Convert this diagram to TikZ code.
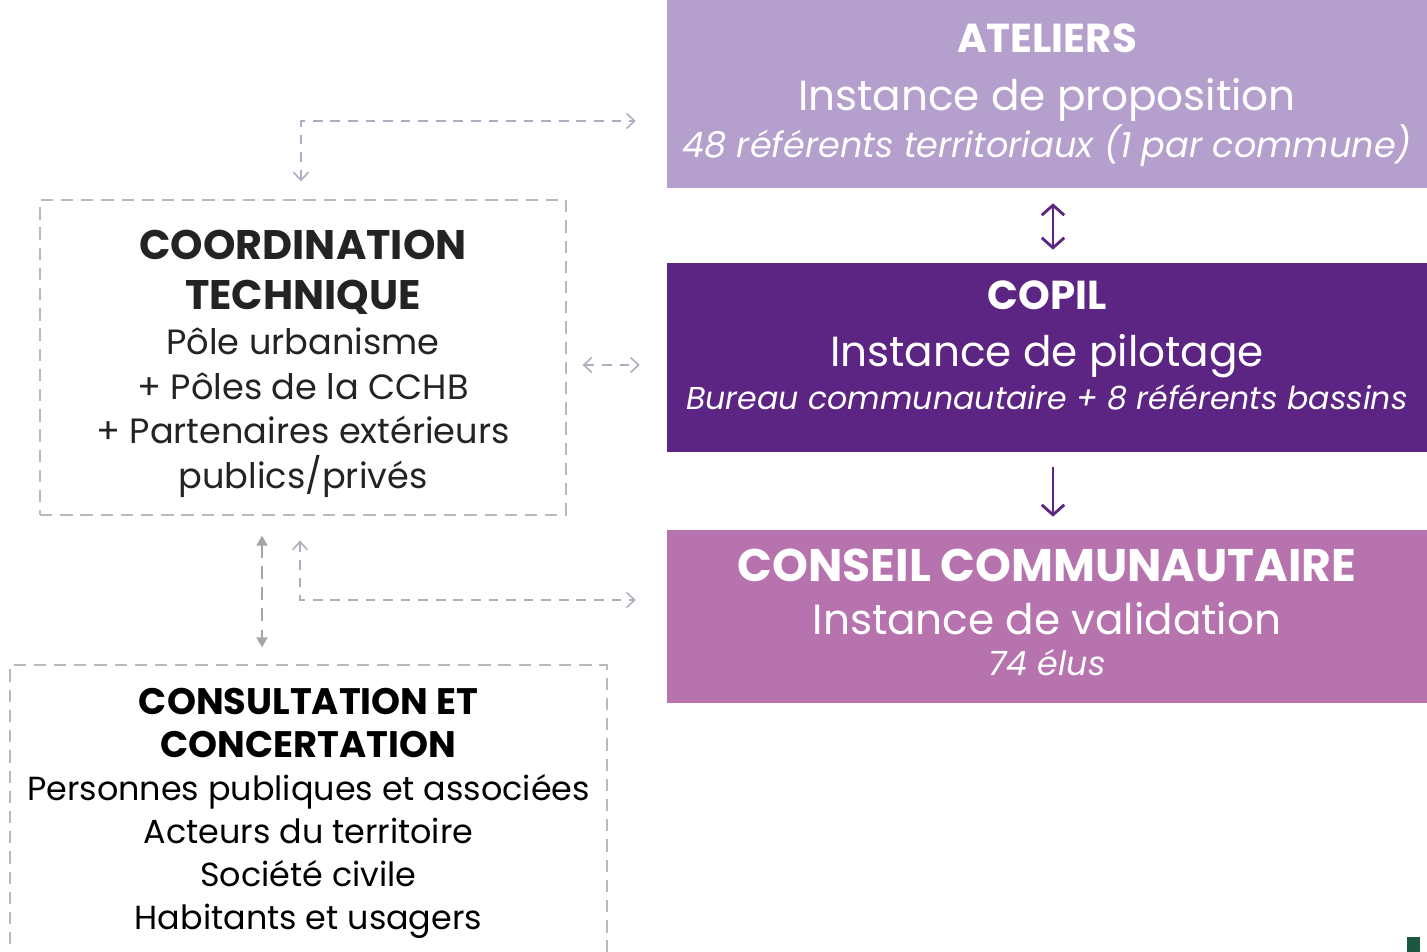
\documentclass[tikz,border=0pt]{standalone}
\usepackage{fontspec}
\setmainfont{Poppins}
\usetikzlibrary{positioning, arrows.meta}

\definecolor{atelcol}{RGB}{180,159,205}
\definecolor{copilcol}{RGB}{92,36,131}
\definecolor{conseilcol}{RGB}{183,115,174}
\definecolor{boxgray}{RGB}{185,185,188}
\definecolor{linkgray}{RGB}{178,172,192}
\definecolor{vgray}{RGB}{165,165,165}
\definecolor{textdark}{RGB}{35,35,35}
\definecolor{logogreen}{RGB}{28,88,62}

\newcommand{\boxfont}[2]{\fontsize{#1}{#2}\selectfont\lineskiplimit -50pt\relax}
\newcommand{\ttlfont}[1]{\fontsize{#1}{24}\selectfont\bfseries}
\newcommand{\subfont}{\fontsize{24}{24}\selectfont}
\newcommand{\itlfont}[1]{\fontsize{#1}{24}\selectfont\itshape}

\tikzset{
	instance/.style={rectangle, minimum width=15.2cm, align=center, text=white, inner sep=0pt,
		font={\boxfont{20}{24}}},
	dashbox/.style={rectangle, draw=boxgray, line width=0.8pt, dash pattern=on 7pt off 4.5pt, align=center, text=textdark, inner sep=0pt},
	link/.style={draw=linkgray, line width=0.9pt, dash pattern=on 5.5pt off 4.5pt, {Straight Barb[length=1.6mm, width=3mm]}-{Straight Barb[length=1.6mm, width=3mm]}},
	flow/.style={draw=copilcol, line width=1.6pt, shorten <=0.3cm, shorten >=0.26cm},
}

\begin{document}
\begin{tikzpicture}[x=0.02cm, y=-0.02cm]

	\clip (0,0) rectangle (1427,952);
	\fill[white] (0,0) rectangle (1427,952);

	% instances
	\node[instance, fill=atelcol, minimum height=3.76cm] (atel) at (1047,94)
		{\ttlfont{23}\rule{0pt}{18pt}ATELIERS\\[8.8pt] \subfont Instance de proposition\\[2.7pt] \itlfont{20}48 référents territoriaux (1 par commune)};
	\node[instance, fill=copilcol, minimum height=3.78cm] (copil) at (1047,357.5)
		{\ttlfont{23}COPIL\\[8.3pt] \subfont Instance de pilotage\\[0.4pt] \itlfont{18}Bureau communautaire + 8 référents bassins\rule[-14pt]{0pt}{14pt}};
	\node[instance, fill=conseilcol, minimum height=3.46cm] (conseil) at (1047,616.5)
		{\ttlfont{26}CONSEIL COMMUNAUTAIRE\\[6pt] \subfont Instance de validation\\[-0.7pt] \itlfont{19}74 élus\rule[-5pt]{0pt}{5pt}};

	% dashed boxes
	\node[dashbox, minimum width=10.52cm, minimum height=6.3cm, font={\boxfont{20}{25.5}}] (coord) at (303,357.5)
		{\ttlfont{23.5}\rule{0pt}{24pt}COORDINATION\\[3pt] \ttlfont{23.5}TECHNIQUE\\ Pôle urbanisme\\ + Pôles de la CCHB\\ + Partenaires extérieurs\\ publics/privés};
	\node[dashbox, minimum width=11.94cm, minimum height=5.94cm, text=black, font={\boxfont{19}{24.5}}] (consult) at (308.5,813.5)
		{\ttlfont{21}CONSULTATION ET\\ \ttlfont{21}CONCERTATION\\ Personnes publiques et associées\\ Acteurs du territoire\\ Société civile\\ Habitants et usagers};

	% flows between instances
	\draw[flow, {Straight Barb[length=2mm, width=4.5mm]}-{Straight Barb[length=2mm, width=4.5mm]}]
		([xshift=0.12cm]atel.south) -- ([xshift=0.12cm]copil.north);
	\draw[flow, -{Straight Barb[length=2mm, width=4.5mm]}]
		([xshift=0.12cm]copil.south) -- ([xshift=0.12cm]conseil.north);

	% links from coordination
	\draw[link] ([xshift=-0.04cm, yshift=0.36cm]coord.north) |- ([xshift=-0.62cm, yshift=-0.54cm]atel.west);
	\draw[link] ([xshift=0.32cm, yshift=-0.15cm]coord.east) -- ([xshift=-0.54cm, yshift=-0.15cm]copil.west);
	\draw[link] ([xshift=-0.06cm, yshift=-0.5cm]coord.south) |- ([xshift=-0.62cm, yshift=0.33cm]conseil.west);

	\coordinate (vtop) at ([xshift=-0.82cm, yshift=-0.4cm]coord.south);
	\draw[draw=vgray, line width=1pt, dash pattern=on 7pt off 5pt, {Triangle[length=2mm, width=2.2mm]}-{Triangle[length=2mm, width=2.2mm]}]
		(vtop) -- ([yshift=0.34cm]vtop |- consult.north);

	% logo corner
	\fill[logogreen] (1407,937) rectangle (1420,952);

\end{tikzpicture}
\end{document}
